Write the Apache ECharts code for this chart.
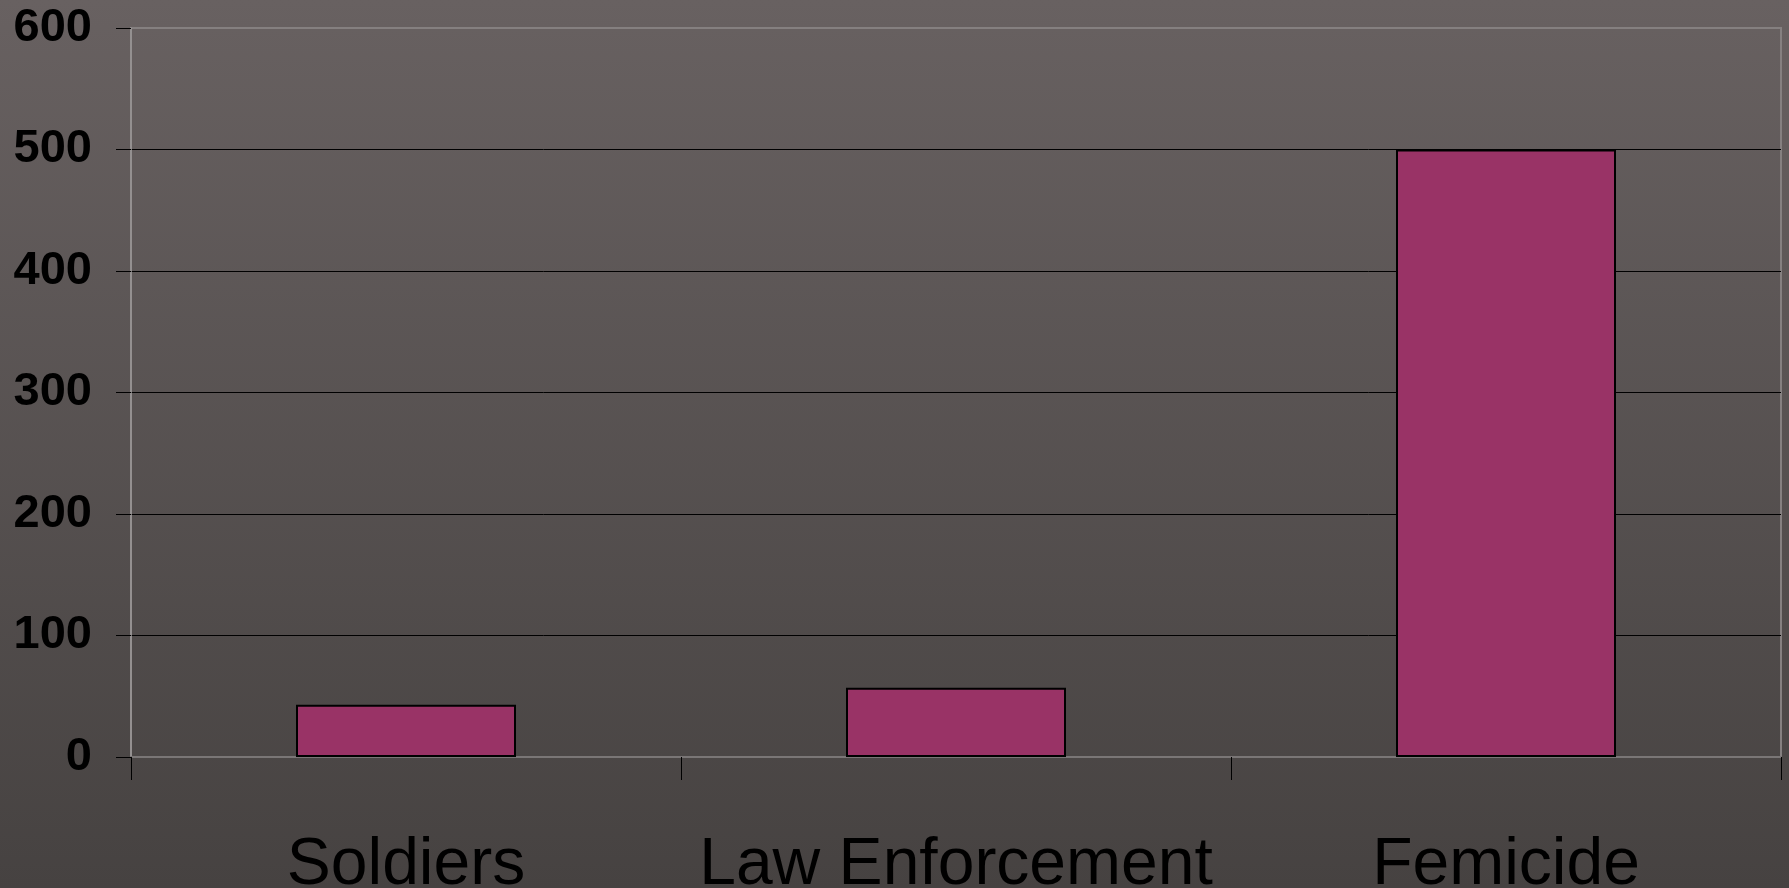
<!DOCTYPE html>
<html>
<head>
<meta charset="utf-8">
<script src="https://cdn.jsdelivr.net/npm/echarts@6/dist/echarts.min.js"></script>
<style>
  html, body { margin: 0; padding: 0; width: 1789px; height: 888px; overflow: hidden; }
  #chart { width: 1789px; height: 888px; }
</style>
</head>
<body>
<div id="chart"></div>
<script>
const categories = ['Soldiers', 'Law Enforcement', 'Femicide'];
const values = [43, 57, 500];
const yTicks = [0, 100, 200, 300, 400, 500, 600];

const FONT = 'Liberation Sans, Arial, sans-serif';
const chart = echarts.init(document.getElementById('chart'), null, { renderer: 'canvas' });
chart.setOption({
  animation: false,
  backgroundColor: {
    type: 'linear', x: 0, y: 0, x2: 0, y2: 1,
    colorStops: [
      { offset: 0, color: '#686161' },
      { offset: 1, color: '#464241' }
    ]
  },
  grid: {
    left: 131, right: 8, top: 28, bottom: 131,
    outerBoundsMode: 'none',
    containLabel: false,
    show: true, borderColor: '#858080', borderWidth: 2, backgroundColor: 'transparent'
  },
  xAxis: {
    type: 'category',
    data: categories,
    boundaryGap: true,
    axisLine: { show: true, lineStyle: { color: '#7a7676', width: 2 } },
    axisTick: { show: true, interval: 0, length: 23, lineStyle: { color: '#000', width: 1 } },
    axisLabel: {
      interval: 0,
      hideOverlap: false,
      margin: 76,
      formatter: function (v) { return '{a|' + v + '}'; },
      rich: {
        a: { fontSize: 66, color: '#000', fontFamily: FONT }
      }
    },
    splitLine: { show: false }
  },
  yAxis: {
    type: 'value',
    min: yTicks[0],
    max: yTicks[yTicks.length - 1],
    interval: 100,
    axisLine: { show: true, lineStyle: { color: '#9a9696', width: 1.5 } },
    axisTick: { show: true, length: 15, lineStyle: { color: '#000', width: 1 } },
    axisLabel: {
      margin: 39,
      formatter: function (v) { return '{b|' + v + '}'; },
      rich: {
        b: { fontSize: 47, fontWeight: 'bold', color: '#000', fontFamily: FONT }
      }
    },
    splitLine: {
      show: true,
      lineStyle: { color: ['#7a7676', '#000', '#000', '#000', '#000', '#000', '#858080'], width: 1 }
    }
  },
  series: [{
    type: 'bar',
    data: values,
    barWidth: '40%',
    itemStyle: { color: '#993366', borderColor: '#000', borderWidth: 2 }
  }]
});
</script>
</body>
</html>
